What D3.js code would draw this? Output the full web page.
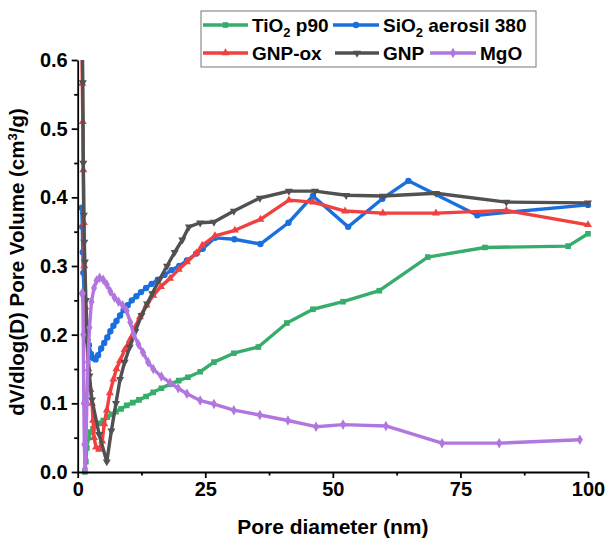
<!DOCTYPE html>
<html>
<head>
<meta charset="utf-8">
<script src="https://cdn.jsdelivr.net/npm/d3@7"></script>
<style>
  html, body { margin: 0; padding: 0; background: #fff; }
  svg { display: block; font-family: "Liberation Sans", Arial, sans-serif; font-weight: bold; }
</style>
</head>
<body>
<svg id="chart" width="609" height="546"></svg>
<script>
// Pore size distributions (BJH dV/dlog(D)) for five powders
const xTicks = [0, 25, 50, 75, 100];
const xMinorTicks = [12.5, 37.5, 62.5, 87.5];
const yTicks = [0, 0.1, 0.2, 0.3, 0.4, 0.5, 0.6];
const yMinorTicks = [0.05, 0.15, 0.25, 0.35, 0.45, 0.55];

// TiO2 p90
const tio2D = [1.4, 1.6, 1.8, 2.1, 2.5, 3.0, 3.6, 4.3, 5.0, 5.8, 6.6, 7.5, 8.5, 9.6, 10.8, 12.0, 13.4, 14.8, 16.4, 18.1, 19.8, 21.6, 24, 26.7, 30.6, 35.4, 41, 46.1, 52, 59.1, 68.6, 79.8, 96.1, 100];
const tio2V = [0.0, 0.015, 0.035, 0.05, 0.058, 0.063, 0.067, 0.071, 0.075, 0.08, 0.084, 0.088, 0.092, 0.097, 0.101, 0.105, 0.11, 0.116, 0.122, 0.128, 0.133, 0.138, 0.146, 0.16, 0.173, 0.182, 0.217, 0.237, 0.248, 0.264, 0.313, 0.327, 0.329, 0.347];

// SiO2 aerosil 380
const sio2D = [0.8, 0.9, 1.0, 1.1, 1.3, 1.5, 1.8, 2.2, 2.6, 3.0, 3.5, 4.0, 4.6, 5.2, 5.8, 6.4, 7.0, 7.6, 8.3, 9.0, 9.8, 10.6, 11.5, 12.4, 13.4, 14.5, 15.7, 17.0, 18.4, 19.9, 21.4, 23.2, 24.5, 26.9, 30.7, 35.8, 41.3, 46.1, 53, 59.7, 64.8, 78.3, 100];
const sio2V = [0.385, 0.357, 0.32, 0.29, 0.25, 0.22, 0.2, 0.185, 0.172, 0.166, 0.164, 0.17, 0.18, 0.188, 0.196, 0.205, 0.213, 0.22, 0.228, 0.236, 0.243, 0.25, 0.256, 0.262, 0.268, 0.274, 0.28, 0.287, 0.294, 0.3, 0.308, 0.318, 0.325, 0.341, 0.339, 0.332, 0.363, 0.402, 0.357, 0.398, 0.424, 0.374, 0.389];

// GNP-ox
const gnpOxD = [0.7, 0.9, 1.0, 1.1, 1.2, 1.3, 1.5, 1.8, 2.1, 2.5, 2.8, 3.0, 3.2, 3.6, 4.2, 4.8, 5.2, 5.7, 6.3, 7.0, 7.6, 8.3, 9.2, 10.2, 11.2, 12.2, 13.5, 14.8, 16.3, 18.1, 19.8, 21.4, 23.3, 24.4, 26.9, 30.8, 35.8, 41.4, 46.1, 52.4, 59.8, 70.2, 84, 100];
const gnpOxV = [0.75, 0.566, 0.51, 0.44, 0.363, 0.3, 0.24, 0.19, 0.15, 0.12, 0.1, 0.075, 0.05, 0.036, 0.033, 0.045, 0.07, 0.09, 0.115, 0.135, 0.15, 0.162, 0.178, 0.192, 0.21, 0.226, 0.243, 0.257, 0.27, 0.282, 0.295, 0.306, 0.319, 0.33, 0.344, 0.352, 0.368, 0.396, 0.393, 0.38, 0.377, 0.377, 0.381, 0.36];

// GNP
const gnpD = [0.7, 1.0, 1.1, 1.2, 1.3, 1.4, 1.6, 1.9, 2.3, 2.8, 4.2, 5.7, 6.6, 7.5, 8.3, 9.2, 10.2, 11.3, 12.5, 13.6, 14.6, 16, 17.5, 19, 20.5, 21.8, 24, 26.7, 30.6, 35.7, 41.4, 46.5, 52.6, 59.8, 70.2, 84, 100];
const gnpV = [0.75, 0.567, 0.45, 0.374, 0.335, 0.306, 0.25, 0.19, 0.14, 0.105, 0.055, 0.015, 0.06, 0.1, 0.135, 0.16, 0.182, 0.205, 0.228, 0.245, 0.26, 0.28, 0.3, 0.32, 0.338, 0.357, 0.363, 0.364, 0.38, 0.399, 0.409, 0.409, 0.403, 0.402, 0.406, 0.393, 0.392];

// MgO
const mgoD = [0.8, 1.0, 1.1, 1.2, 1.3, 1.45, 1.6, 1.8, 2.0, 2.3, 2.7, 3.2, 3.7, 4.3, 5.0, 5.7, 6.4, 7.2, 8.0, 8.8, 9.6, 10.3, 11.0, 11.9, 12.8, 13.8, 14.8, 16.4, 18.1, 19.7, 21.4, 24, 26.7, 30.6, 35.7, 41.2, 46.7, 52, 60.4, 71.4, 82.6, 98.4];
const mgoV = [0.26, 0.26, 0.2, 0.1, 0.04, 0.005, 0.04, 0.1, 0.16, 0.21, 0.248, 0.268, 0.279, 0.283, 0.28, 0.273, 0.263, 0.254, 0.248, 0.243, 0.235, 0.218, 0.2, 0.186, 0.174, 0.16, 0.15, 0.139, 0.13, 0.122, 0.114, 0.104, 0.099, 0.09, 0.083, 0.075, 0.066, 0.069, 0.067, 0.042, 0.042, 0.047];

const seriesNames = ["TiO\u2082 p90", "SiO\u2082 aerosil 380", "GNP-ox", "GNP", "MgO"];

const series = [
  { name: seriesNames[0], d: tio2D, v: tio2V, color: "#37AD6B", symbol: d3.symbolSquare, size: 32, rot: 0 },
  { name: seriesNames[1], d: sio2D, v: sio2V, color: "#1A6FDF", symbol: d3.symbolCircle, size: 32, rot: 0 },
  { name: seriesNames[2], d: gnpOxD, v: gnpOxV, color: "#F14040", symbol: d3.symbolTriangle, size: 28, rot: 0 },
  { name: seriesNames[3], d: gnpD, v: gnpV, color: "#515151", symbol: d3.symbolTriangle, size: 28, rot: 180 },
  { name: seriesNames[4], d: mgoD, v: mgoV, color: "#B177DE", symbol: d3.symbolDiamond, size: 32, rot: 0 }
];

const svg = d3.select("#chart");
const plotL = 77.7, plotR = 588, plotT = 60, plotB = 472;

const x = d3.scaleLinear().domain([0, 100]).range([plotL, plotR]);
const y = d3.scaleLinear().domain([0, 0.6]).range([plotB, plotT]);

svg.append("defs").append("clipPath").attr("id", "plotClip")
  .append("rect").attr("x", plotL).attr("y", plotT).attr("width", plotR - plotL + 4).attr("height", plotB - plotT + 4);

const plot = svg.append("g").attr("clip-path", "url(#plotClip)");
const line = d3.line().x(p => x(p[0])).y(p => y(p[1]));

series.forEach(s => {
  const pts = s.d.map((d, j) => [d, s.v[j]]);
  const g = plot.append("g");
  g.append("path").datum(pts)
    .attr("d", line)
    .attr("fill", "none")
    .attr("stroke", s.color)
    .attr("stroke-width", 3.4)
    .attr("stroke-linejoin", "round");
  g.selectAll("path.m").data(pts).join("path")
    .attr("class", "m")
    .attr("d", d3.symbol().type(s.symbol).size(s.size))
    .attr("transform", p => `translate(${x(p[0])},${y(p[1])}) rotate(${s.rot})`)
    .attr("fill", s.color);
});

// axes
const fontSize = 20;
svg.append("g").attr("transform", `translate(0,${plotB})`)
  .call(d3.axisBottom(x).tickValues(xTicks).tickSize(6).tickSizeOuter(0).tickPadding(4).tickFormat(d3.format("d")));
svg.append("g").attr("transform", `translate(0,${plotB})`)
  .call(d3.axisBottom(x).tickValues(xMinorTicks).tickSize(3.5).tickSizeOuter(0).tickFormat(""))
  .select(".domain").remove();

svg.append("g").attr("transform", `translate(${plotL},0)`)
  .call(d3.axisLeft(y).tickValues(yTicks).tickSize(6).tickSizeOuter(0).tickPadding(4).tickFormat(d3.format(".1f")));
svg.append("g").attr("transform", `translate(${plotL},0)`)
  .call(d3.axisLeft(y).tickValues(yMinorTicks).tickSize(3.5).tickSizeOuter(0).tickFormat(""))
  .select(".domain").remove();

svg.selectAll(".domain").attr("stroke", "#000").attr("stroke-width", 1.8);
svg.selectAll(".tick line").attr("stroke", "#000").attr("stroke-width", 1.8);
svg.selectAll(".tick text")
  .attr("fill", "#000")
  .style("font-size", fontSize + "px")
  .style("font-weight", "bold")
  .style("font-family", "'Liberation Sans', Arial, sans-serif");

// axis titles
svg.append("text")
  .attr("x", (plotL + plotR) / 2).attr("y", 534)
  .attr("text-anchor", "middle")
  .style("font-size", "21px")
  .text("Pore diameter (nm)");

const yt = svg.append("text")
  .attr("transform", `translate(24,${(plotT + plotB) / 2 - 4}) rotate(-90)`)
  .attr("text-anchor", "middle")
  .style("font-size", "20.5px");
yt.append("tspan").text("dV/dlog(D) Pore Volume (cm");
yt.append("tspan").attr("dy", -7).style("font-size", "13px").text("3");
yt.append("tspan").attr("dy", 7).text("/g)");

// legend
const lg = svg.append("g");
lg.append("rect")
  .attr("x", 201).attr("y", 11).attr("width", 335).attr("height", 56)
  .attr("fill", "#fff").attr("stroke", "#777").attr("stroke-width", 1);

const legendItems = [
  { s: 0, lx: 203, tx: 252, ty: 25 },
  { s: 1, lx: 333, tx: 383, ty: 25 },
  { s: 2, lx: 203, tx: 252, ty: 53 },
  { s: 3, lx: 335, tx: 383, ty: 53 },
  { s: 4, lx: 430, tx: 480, ty: 53 }
];
legendItems.forEach(it => {
  const s = series[it.s];
  lg.append("line")
    .attr("x1", it.lx).attr("x2", it.tx - 4)
    .attr("y1", it.ty).attr("y2", it.ty)
    .attr("stroke", s.color).attr("stroke-width", 3.4);
  lg.append("path")
    .attr("d", d3.symbol().type(s.symbol).size(s.size)())
    .attr("transform", `translate(${(it.lx + it.tx - 4) / 2},${it.ty}) rotate(${s.rot})`)
    .attr("fill", s.color);
  const t = lg.append("text")
    .attr("x", it.tx).attr("y", it.ty + 7)
    .style("font-size", "19px");
  const m = s.name.match(/^(.*?)(\u2082)(.*)$/);
  if (m) {
    t.append("tspan").text(m[1]);
    t.append("tspan").attr("dy", 5).style("font-size", "13px").text("2");
    t.append("tspan").attr("dy", -5).text(m[3]);
  } else {
    t.text(s.name);
  }
});
</script>
</body>
</html>
